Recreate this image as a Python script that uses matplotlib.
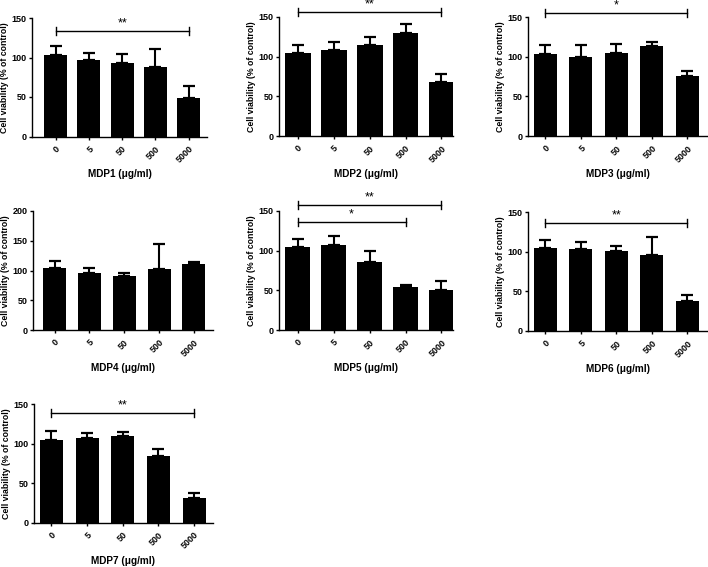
import matplotlib
matplotlib.use("Agg")
import matplotlib.pyplot as plt
import numpy as np

plt.rcParams["font.family"] = ["Liberation Sans", "DejaVu Sans"]
plt.rcParams["font.weight"] = "bold"

# ── Data ──────────────────────────────────────────────────────────────────────

doses = ["0", "5", "50", "500", "5000"]

mdp1_mean = [103, 97, 92.5, 88, 48.5]
mdp1_err = [11.5, 9, 11.5, 23, 15.5]
mdp2_mean = [104, 109, 115, 130, 68]
mdp2_err = [11, 9, 10, 11, 10]
mdp3_mean = [104, 100, 105, 113.5, 76]
mdp3_err = [11, 15, 11, 5.5, 6.5]
mdp4_mean = [104, 96, 90.5, 103, 110.5]
mdp4_err = [11.5, 9, 5.5, 42, 4]
mdp5_mean = [104, 107, 86, 54, 50]
mdp5_err = [11, 11.5, 14, 2.5, 12]
mdp6_mean = [104.5, 103, 101, 95.5, 38]
mdp6_err = [10.5, 10, 7, 23.5, 7.5]
mdp7_mean = [104.5, 107.5, 110, 84, 31]
mdp7_err = [11, 5.8, 4, 8.7, 6]

names = ["MDP1", "MDP2", "MDP3", "MDP4", "MDP5", "MDP6", "MDP7"]
means = [mdp1_mean, mdp2_mean, mdp3_mean, mdp4_mean, mdp5_mean, mdp6_mean, mdp7_mean]
errs = [mdp1_err, mdp2_err, mdp3_err, mdp4_err, mdp5_err, mdp6_err, mdp7_err]
ytops = [150, 150, 150, 200, 150, 150, 150]

# significance brackets: (from index, to index, height, label)
brackets = [
    [(0, 4, 133, "**")],
    [(0, 4, 156, "**")],
    [(0, 4, 156, "*")],
    [],
    [(0, 4, 157, "**"), (0, 3, 136, "*")],
    [(0, 4, 136, "**")],
    [(0, 4, 139, "**")],
]

# ── Layout in pixels: left, right, top, bottom of each axes box ───────────────

W, H = 708, 567
boxes = [
    (32, 207, 18, 136.5),
    (279, 453, 17, 136),
    (528, 707, 17.3, 136),
    (33, 213, 211, 330),
    (279, 453, 211, 330),
    (528, 707, 212.3, 331),
    (34, 213, 404, 522.7),
]
xlims = [
    (-0.71, 4.55),
    (-0.52, 4.32),
    (-0.49, 4.55),
    (-0.62, 4.55),
    (-0.52, 4.32),
    (-0.49, 4.55),
    (-0.49, 4.53),
]
bar_w = [0.69, 0.72, 0.65, 0.66, 0.68, 0.65, 0.65]

fig = plt.figure(figsize=(W / 100, H / 100), dpi=100)

for i, name in enumerate(names):
    l, r, t, b = boxes[i]
    ax = fig.add_axes([l / W, 1 - b / H, (r - l) / W, (b - t) / H])
    x = np.arange(len(doses))
    ax.bar(x, means[i], width=bar_w[i], color="black", zorder=2)
    ax.errorbar(x, means[i], yerr=[np.zeros(len(doses)), errs[i]], fmt="none",
                ecolor="black", elinewidth=1.5, capsize=4.5, capthick=1.6, zorder=1)

    ax.set_xlim(*xlims[i])
    ax.set_ylim(0, ytops[i])
    ax.set_yticks(np.arange(0, ytops[i] + 1, 50))
    ax.set_xticks(x)
    ax.set_xticklabels(doses, rotation=45, ha="right", rotation_mode="anchor")
    ax.tick_params(axis="both", labelsize=6.5, width=1.0, length=2.5, pad=1.5)
    ax.tick_params(axis="x", pad=3)
    for s in ["top", "right"]:
        ax.spines[s].set_visible(False)
    for s in ["left", "bottom"]:
        ax.spines[s].set_linewidth(1.0)

    ax.set_ylabel("Cell viability (% of control)", fontsize=6.3, fontweight="bold", labelpad=1.5)
    ax.set_xlabel(f"{name} (μg/ml)", fontsize=7.2, fontweight="bold", labelpad=3.5)

    # brackets
    tick_h = 4 * ytops[i] / (b - t)
    for x0, x1, yb, lab in brackets[i]:
        ax.plot([x0, x1], [yb, yb], color="black", lw=1.0, clip_on=False)
        for xe in (x0, x1):
            ax.plot([xe, xe], [yb - tick_h, yb + tick_h], color="black", lw=1.0, clip_on=False)
        ax.text((x0 + x1) / 2, yb + tick_h * 0.4, lab, ha="center", va="bottom",
                fontsize=9, fontweight="normal")

fig.savefig("out.png", dpi=100)
